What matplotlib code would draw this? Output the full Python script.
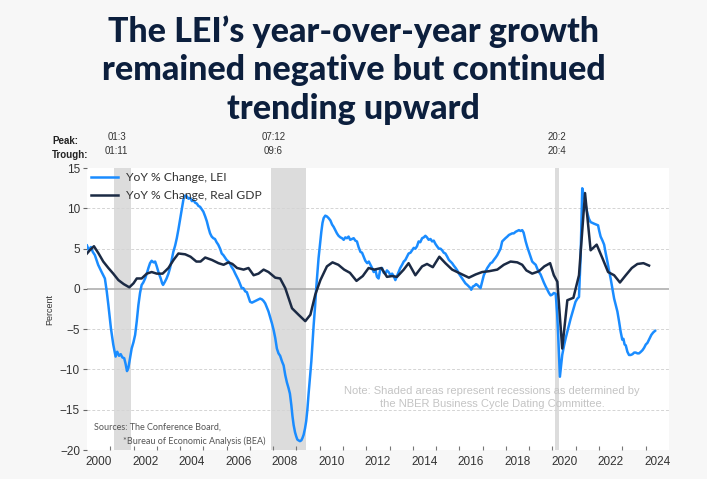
import matplotlib
matplotlib.use("Agg")
import matplotlib.pyplot as plt
import matplotlib.transforms as mtransforms
import numpy as np

# ── data ────────────────────────────────────────────────────────
lei_year = [
    2000.00, 2000.08, 2000.17, 2000.25, 2000.34, 2000.48, 2000.63, 2000.77, 2000.85, 2000.92,
    2001.03, 2001.13, 2001.23, 2001.30, 2001.38, 2001.45, 2001.52, 2001.60, 2001.66, 2001.72,
    2001.78, 2001.85, 2001.92, 2002.00, 2002.07, 2002.14, 2002.21, 2002.28, 2002.35, 2002.42,
    2002.50, 2002.57, 2002.64, 2002.71, 2002.78, 2002.86, 2002.93, 2003.00, 2003.08, 2003.17,
    2003.23, 2003.27, 2003.35, 2003.42, 2003.50, 2003.57, 2003.64, 2003.71, 2003.79, 2003.86,
    2003.93, 2004.00, 2004.08, 2004.15, 2004.22, 2004.29, 2004.36, 2004.44, 2004.51, 2004.58,
    2004.65, 2004.72, 2004.79, 2004.86, 2004.93, 2005.00, 2005.08, 2005.15, 2005.22, 2005.29,
    2005.36, 2005.43, 2005.50, 2005.57, 2005.64, 2005.72, 2005.79, 2005.86, 2005.93, 2006.00,
    2006.08, 2006.15, 2006.22, 2006.29, 2006.37, 2006.44, 2006.51, 2006.58, 2006.65, 2006.72,
    2006.80, 2006.87, 2006.94, 2007.01, 2007.09, 2007.16, 2007.23, 2007.30, 2007.37, 2007.44,
    2007.52, 2007.59, 2007.66, 2007.73, 2007.80, 2007.87, 2007.95, 2008.02, 2008.09, 2008.16,
    2008.23, 2008.30, 2008.38, 2008.45, 2008.52, 2008.59, 2008.66, 2008.72, 2008.78, 2008.83,
    2008.88, 2008.94, 2008.99, 2009.04, 2009.09, 2009.15, 2009.21, 2009.26, 2009.31, 2009.37,
    2009.42, 2009.47, 2009.52, 2009.58, 2009.64, 2009.69, 2009.74, 2009.80, 2009.85, 2009.90,
    2009.95, 2010.01, 2010.07, 2010.12, 2010.17, 2010.24, 2010.31, 2010.38, 2010.46, 2010.53,
    2010.60, 2010.67, 2010.74, 2010.81, 2010.89, 2010.96, 2011.03, 2011.10, 2011.17, 2011.24,
    2011.31, 2011.38, 2011.46, 2011.53, 2011.60, 2011.67, 2011.75, 2011.82, 2011.89, 2011.96,
    2012.04, 2012.11, 2012.18, 2012.25, 2012.32, 2012.39, 2012.46, 2012.53, 2012.60, 2012.68,
    2012.75, 2012.82, 2012.89, 2012.96, 2013.04, 2013.11, 2013.18, 2013.25, 2013.32, 2013.39,
    2013.46, 2013.54, 2013.61, 2013.68, 2013.75, 2013.82, 2013.90, 2013.97, 2014.04, 2014.11,
    2014.18, 2014.25, 2014.32, 2014.40, 2014.47, 2014.54, 2014.61, 2014.68, 2014.76, 2014.83,
    2014.90, 2014.97, 2015.04, 2015.12, 2015.19, 2015.26, 2015.33, 2015.40, 2015.48, 2015.55,
    2015.62, 2015.69, 2015.76, 2015.84, 2015.91, 2015.98, 2016.05, 2016.12, 2016.19, 2016.26,
    2016.34, 2016.41, 2016.48, 2016.51, 2016.58, 2016.65, 2016.72, 2016.77, 2016.84, 2016.91,
    2016.98, 2017.05, 2017.13, 2017.20, 2017.27, 2017.34, 2017.41, 2017.48, 2017.56, 2017.63,
    2017.70, 2017.77, 2017.84, 2017.91, 2017.98, 2018.06, 2018.13, 2018.20, 2018.27, 2018.34,
    2018.42, 2018.49, 2018.56, 2018.63, 2018.70, 2018.76, 2018.85, 2018.92, 2018.99, 2019.06,
    2019.13, 2019.20, 2019.28, 2019.35, 2019.42, 2019.49, 2019.56, 2019.63, 2019.71, 2019.78,
    2019.85, 2019.92, 2019.99, 2020.06, 2020.14, 2020.20, 2020.24, 2020.32, 2020.42, 2020.50,
    2020.57, 2020.64, 2020.71, 2020.78, 2020.85, 2020.92, 2020.99, 2021.07, 2021.14, 2021.21,
    2021.28, 2021.33, 2021.38, 2021.44, 2021.50, 2021.57, 2021.64, 2021.71, 2021.79, 2021.87,
    2021.96, 2022.01, 2022.07, 2022.15, 2022.22, 2022.29, 2022.36, 2022.43, 2022.50, 2022.57,
    2022.65, 2022.72, 2022.79, 2022.86, 2022.93, 2023.00, 2023.05, 2023.10, 2023.15, 2023.22,
    2023.29, 2023.36, 2023.44, 2023.51, 2023.58, 2023.65, 2023.72, 2023.80, 2023.87, 2023.94,
    2024.01, 2024.08, 2024.15, 2024.25, 2024.33, 2024.41,
]
lei_yoy = [
    5.4, 4.8, 5.2, 4.6, 4.2, 3.0, 2.1, 1.3, -0.3, -2.0,
    -4.9, -6.9, -8.4, -7.8, -8.3, -8.1, -8.5, -8.6, -9.3, -10.2,
    -9.8, -8.6, -7.4, -6.6, -5.7, -4.0, -2.0, -0.5, 0.5, 0.8,
    1.3, 1.9, 2.6, 3.2, 3.5, 3.3, 3.4, 2.8, 2.0, 1.3,
    0.7, 0.5, 0.9, 1.3, 1.9, 2.6, 3.6, 4.6, 5.4, 6.3,
    7.4, 8.6, 10.0, 11.2, 11.6, 11.5, 11.2, 11.3, 10.9, 11.0,
    10.7, 10.6, 10.3, 10.2, 9.9, 9.6, 9.0, 8.4, 7.6, 6.9,
    6.5, 6.3, 6.2, 5.8, 5.5, 5.0, 4.4, 4.2, 3.9, 3.6,
    3.4, 3.1, 2.7, 2.4, 1.9, 1.5, 1.1, 0.6, 0.1, 0.1,
    -0.3, -0.4, -1.0, -1.6, -1.7, -1.6, -1.5, -1.4, -1.3, -1.2,
    -1.3, -1.5, -1.8, -2.3, -2.8, -3.5, -4.3, -5.1, -6.1, -7.4,
    -8.0, -8.3, -9.0, -9.5, -10.7, -11.6, -12.3, -13.0, -14.4, -15.8,
    -16.9, -17.8, -18.3, -18.7, -18.8, -18.9, -18.8, -18.5, -18.1, -17.3,
    -16.4, -15.0, -13.1, -11.1, -9.0, -6.8, -4.5, -2.2, 0.1, 2.0,
    3.8, 5.5, 7.1, 8.2, 8.8, 9.1, 9.0, 8.8, 8.5, 8.0,
    7.7, 7.3, 6.9, 6.6, 6.4, 6.3, 6.1, 6.4, 6.3, 6.5,
    6.1, 6.2, 6.3, 6.0, 5.9, 5.2, 4.6, 4.5, 4.0, 3.5,
    3.2, 3.4, 3.0, 2.6, 2.1, 2.4, 1.5, 1.3, 2.4, 2.6,
    2.0, 1.9, 2.3, 2.1, 1.7, 1.9, 1.6, 1.1, 1.6, 2.1,
    2.6, 3.0, 3.4, 3.6, 4.0, 4.4, 4.5, 4.8, 5.1, 5.0,
    5.3, 5.9, 5.8, 6.3, 6.4, 6.6, 6.4, 6.1, 6.2, 5.9,
    6.0, 5.6, 5.3, 5.0, 5.0, 4.8, 4.5, 4.4, 4.0, 3.6,
    3.4, 3.2, 2.9, 2.6, 2.3, 1.9, 1.6, 1.3, 1.0, 0.7,
    0.5, 0.3, 0.1, -0.1, 0.3, 0.4, 0.6, 0.5, 0.3, 0.1,
    0.9, 1.7, 2.2, 2.6, 2.9, 3.2, 3.3, 3.6, 3.9, 4.2,
    4.6, 5.0, 5.9, 6.1, 6.3, 6.5, 6.7, 6.8, 6.9, 6.9,
    7.1, 7.2, 7.3, 7.2, 7.3, 7.0, 5.9, 5.2, 4.6, 4.0,
    3.4, 3.2, 3.0, 2.5, 2.1, 1.8, 1.3, 0.8, 0.3, -0.1,
    -0.5, -0.8, -0.7, -0.5, -0.6, -3.0, -5.3, -10.9, -8.2, -7.0,
    -6.1, -5.3, -4.5, -3.7, -3.0, -2.3, -1.6, -1.2, -1.0, 4.0,
    12.5, 11.8, 11.2, 10.2, 9.4, 8.7, 8.3, 8.2, 8.1, 8.0,
    7.9, 7.2, 6.5, 6.0, 5.5, 4.4, 3.4, 2.3, 1.3, 0.1,
    -1.2, -2.0, -2.8, -4.0, -5.3, -6.3, -6.2, -6.9, -7.0, -7.8,
    -8.2, -8.2, -8.1, -7.9, -7.9, -8.0, -8.0, -7.8, -7.6, -7.3,
    -6.9, -6.7, -6.3, -5.7, -5.4, -5.2,
]

gdp_year = [
    2000.00, 2000.12, 2000.30, 2000.50, 2000.70, 2000.92, 2001.13, 2001.35, 2001.58, 2001.82,
    2002.00, 2002.14, 2002.35, 2002.57, 2002.78, 2003.00, 2003.25, 2003.50, 2003.72, 2003.93,
    2004.22, 2004.45, 2004.70, 2004.88, 2005.08, 2005.37, 2005.65, 2005.87, 2006.08, 2006.25,
    2006.45, 2006.73, 2006.94, 2007.16, 2007.37, 2007.59, 2007.80, 2008.09, 2008.30, 2008.52,
    2008.81, 2009.09, 2009.38, 2009.60, 2009.81, 2010.03, 2010.31, 2010.55, 2010.80, 2011.05,
    2011.30, 2011.58, 2011.85, 2012.10, 2012.35, 2012.65, 2012.89, 2013.11, 2013.32, 2013.61,
    2013.82, 2014.11, 2014.40, 2014.61, 2014.86, 2015.14, 2015.40, 2015.69, 2016.05, 2016.41,
    2016.70, 2016.98, 2017.27, 2017.63, 2017.91, 2018.20, 2018.49, 2018.70, 2018.88, 2019.13,
    2019.42, 2019.65, 2019.90, 2020.06, 2020.21, 2020.42, 2020.64, 2020.90, 2021.14, 2021.40,
    2021.64, 2021.90, 2022.15, 2022.39, 2022.65, 2022.90, 2023.15, 2023.41, 2023.65, 2023.91,
    2024.15,
]
gdp_yoy = [
    4.4, 4.8, 5.3, 4.4, 3.4, 2.6, 1.9, 1.1, 0.6, 0.2,
    0.7, 1.3, 1.3, 1.9, 2.1, 1.9, 1.9, 2.6, 3.6, 4.4,
    4.3, 4.0, 3.4, 3.4, 3.9, 3.6, 3.2, 3.0, 3.3, 3.1,
    2.6, 2.4, 2.6, 1.7, 1.9, 2.4, 2.1, 1.4, 1.3, 0.1,
    -2.4, -3.2, -4.0, -3.2, -0.7, 1.1, 2.8, 3.3, 3.0, 2.4,
    2.0, 1.0, 1.6, 2.6, 2.4, 2.6, 1.5, 1.6, 1.5, 2.4,
    3.2, 1.7, 2.8, 3.1, 2.7, 4.0, 3.2, 2.4, 1.9, 1.4,
    1.8, 2.1, 2.2, 2.4, 3.0, 3.4, 3.3, 3.0, 2.3, 1.9,
    2.2, 2.8, 3.2, 1.7, 0.9, -7.4, -1.4, -1.1, 1.7, 11.9,
    4.8, 5.5, 3.8, 2.1, 1.7, 0.8, 1.7, 2.6, 3.1, 3.2,
    2.9,
]

# recessions (peak, trough) as decimal years and their labels
rec_start = [2001.17, 2007.92, 2020.10]
rec_end = [2001.88, 2009.42, 2020.30]
rec_peak_lbl = ["01:3", "07:12", "20:2"]
rec_trough_lbl = ["01:11", "09:6", "20:4"]

year_labels = list(range(2000, 2025, 2))

# ── style ───────────────────────────────────────────────────────
BG = "#f7f7f7"
LEI_C = "#1a8cff"
GDP_C = "#1b2a44"
TITLE_C = "#0c1f3d"

fig = plt.figure(figsize=(7.07, 4.79), dpi=100, facecolor=BG)
ax = fig.add_axes([0.123, 0.0605, 0.823, 0.5885], facecolor="white")

for s, e in zip(rec_start, rec_end):
    ax.axvspan(s, e, color="#dcdcdc", lw=0, zorder=0)

for v in [-15, -10, -5, 5, 10]:
    ax.axhline(v, color="#d4d4d4", lw=0.7, ls=(0, (3, 2)), zorder=1)
ax.axhline(0, color="#a8a8a8", lw=1.1, zorder=1)

ax.plot(lei_year, lei_yoy, color=LEI_C, lw=1.8, label="YoY % Change, LEI", zorder=3)
ax.plot(gdp_year, gdp_yoy, color=GDP_C, lw=1.8, label="YoY % Change, Real GDP", zorder=4)

ax.set_xlim(2000, 2025)
ax.set_ylim(-20, 15)
for sp in ax.spines.values():
    sp.set_visible(False)

ax.set_yticks(range(-20, 16, 5))
ax.tick_params(axis="y", direction="out", length=3, color="#666666",
               labelsize=8.5, labelcolor="#333333", pad=2)
ax.set_xticks(range(2001, 2025))
ax.set_xticklabels([])
ax.set_xticks([y + 0.5 for y in year_labels], minor=True)
ax.set_xticklabels([str(y) for y in year_labels], minor=True)
ax.tick_params(axis="x", which="major", direction="in", length=3, color="#777777")
ax.tick_params(axis="x", which="minor", length=0, labelsize=8.5,
               labelcolor="#333333", pad=4)
for lab in ax.get_xticklabels(minor=True) + ax.get_yticklabels():
    lab.set_family("Liberation Sans")

ax.set_ylabel("Percent", fontsize=6.5, family="Liberation Sans", color="#333333", labelpad=4)

leg = ax.legend(loc="upper left", frameon=False, handlelength=2.3, handletextpad=0.6,
                borderaxespad=0.0, borderpad=0.3, labelspacing=0.6,
                prop={"family": "Lato", "size": 8.7})
for t in leg.get_texts():
    t.set_color("#333333")

# recession peak / trough dates above the plot
trans = mtransforms.blended_transform_factory(ax.transData, fig.transFigure)
fig.text(0.074, 1 - 141 / 479, "Peak:", fontsize=7, weight="bold", color="#222222",
         family="Liberation Sans", va="center")
fig.text(0.074, 1 - 155 / 479, "Trough:", fontsize=7, weight="bold", color="#222222",
         family="Liberation Sans", va="center")
for s, e, p, t in zip(rec_start, rec_end, rec_peak_lbl, rec_trough_lbl):
    xc = s + 0.1
    ax.text(xc, 1 - 137 / 479, p, transform=trans, fontsize=7, color="#333333",
            family="Liberation Sans", ha="center", va="center")
    ax.text(xc, 1 - 151 / 479, t, transform=trans, fontsize=7, color="#333333",
            family="Liberation Sans", ha="center", va="center")

# notes
ax.text(2017.4, -13.5, "Note: Shaded areas represent recessions as determined by\n"
        "the NBER Business Cycle Dating Committee.", fontsize=8, color="#c4c4c4",
        family="Liberation Sans", ha="center", va="center", linespacing=1.3)
ax.text(2000.3, -17.2, "Sources: The Conference Board,", fontsize=6.5, color="#555555",
        family="Lato", ha="left", va="center")
ax.text(2001.55, -18.95, "*Bureau of Economic Analysis (BEA)", fontsize=6.5, color="#555555",
        family="Lato", ha="left", va="center")

# title
fig.text(0.5, 1 - 70 / 479,
         "The LEI\u2019s year-over-year growth\nremained negative but continued\ntrending upward",
         ha="center", va="center", fontsize=24.5, weight="black", family="Lato",
         color=TITLE_C, linespacing=1.24)

fig.savefig("out.png", dpi=100, facecolor=BG)
